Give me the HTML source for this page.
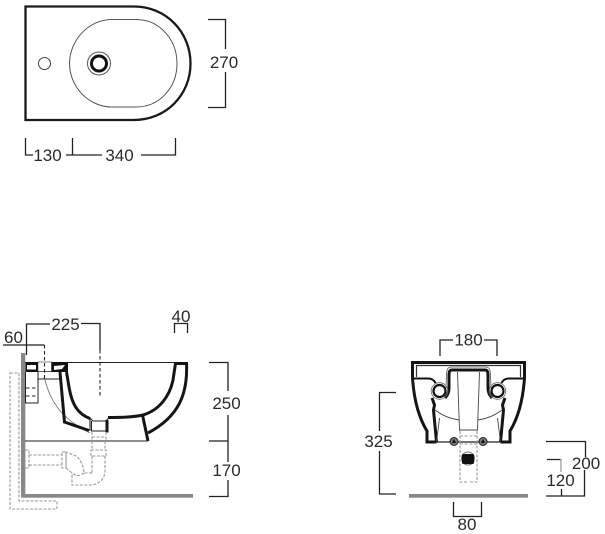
<!DOCTYPE html>
<html><head><meta charset="utf-8">
<style>
html,body{margin:0;padding:0;background:#fff;width:605px;height:534px;overflow:hidden}
svg{display:block}
text{font-family:"Liberation Sans",sans-serif;font-size:17px;fill:#2a2a2a;text-anchor:middle}
.d{fill:none;stroke:#222;stroke-width:1.3}
.k{fill:none;stroke:#151515;stroke-width:3}
.t{fill:none;stroke:#222;stroke-width:1}
.g{fill:none;stroke:#999;stroke-width:1.1;stroke-dasharray:3 1.5}
.b{fill:none;stroke:#222;stroke-width:1.1;stroke-dasharray:3.5 2.5}
</style></head><body>
<svg width="605" height="534" viewBox="0 0 605 534" xmlns="http://www.w3.org/2000/svg">
<!-- top view -->
<path d="M25.500 6.500H134C166 6.500 190.500 32 190.500 63.500S166 120 134 120H25.500Z" fill="none" stroke="#1a1a1a" stroke-width="2.300"/>
<path d="M112 19.500H136C160 19.500 177 40 177 63.500S160 107 136 107H112C88 107 69.500 86 69.500 63.500S88 19.500 112 19.500Z" fill="none" stroke="#555" stroke-width="1"/>
<circle cx="44.500" cy="63.500" r="6" fill="none" stroke="#444" stroke-width="1"/>
<circle cx="99" cy="63.500" r="11.500" fill="none" stroke="#555" stroke-width="1"/>
<circle cx="99" cy="63.500" r="7.500" fill="none" stroke="#111" stroke-width="3"/>
<path class="d" d="M208 19.500H225.500V49M225.500 72V107.500H208"/>
<text x="224" y="68">270</text>
<path class="d" d="M25.500 138V155H33M66 155H102M72.500 138V155M141 155H175.500V138"/>
<text x="47.500" y="161">130</text><text x="119.500" y="161">340</text>

<!-- side view -->
<rect x="21" y="353" width="4.300" height="144.500" fill="#888"/>
<rect x="21" y="494" width="172" height="3.700" fill="#888"/>
<path class="t" stroke-width="1.200" d="M25 362.500H188M25 441H148"/>
<path d="M25.500 362H68V372H25.500Z" fill="#111"/>
<rect x="27" y="365" width="9" height="4.500" fill="#fff"/>
<rect x="38" y="362" width="13.500" height="9.500" fill="#fff" stroke="#333" stroke-width=".6"/>
<path d="M54 366L65 365 L62 369 L54 370Z" fill="#fff"/>
<path class="t" d="M25.500 372V403H38V372M38 379H62M38 372V379"/>
<path class="b" d="M26 388H38M26 396H38"/>
<path d="M45 380C50 400 60 418 90 433" fill="none" stroke="#777" stroke-width=".9"/>
<path class="k" d="M60 372L64.500 422L89 430.500" stroke-width="3.200"/>
<path class="k" d="M66.500 372L69 387C72 405 78 414 90 418.500" stroke-width="3.200"/>
<path class="t" d="M90 418L93 421H106L109 417.500M91.500 421V431H106"/>
<path class="k" d="M107 420V432.500" stroke-width="3"/>
<path d="M90 418V431" stroke="#111" stroke-width="1"/>
<path class="k" d="M108 417.500C125 417.500 135 417 143 415C160 410 170 395 173 380L175.500 363.500H186.500C188 395 178 417 148 433" stroke-width="3"/>
<path class="k" d="M142.500 415L148 441" stroke-width="2.800"/>
<path class="g" d="M92 432V441M106 432V441M92 437H106M92 441V450M105 441V450M91 450H106V456H91ZM92 456C92 460 92 468 92 473M105 456V470C105 480 98 485 90 485H72V473M92 473H84C84 470 82 460 76 456L66 452V468L72 473C78 478 82 474 84 473M66 453V468M62 452H66V468H62ZM29 455H62M29 465H62M25 450H29V468H25Z"/>
<path class="g" d="M10 373H19V501H57V509H10Z"/>
<path class="d" d="M26.500 355V324H50M81 323.500H100V350"/>
<path class="b" d="M100 350V397"/>
<text x="65.500" y="330">225</text>
<path class="d" d="M3 345H44.500"/>
<path class="b" d="M44.500 345V379"/>
<text x="13.500" y="343">60</text>
<text x="181" y="322">40</text>
<path class="d" d="M174.500 333V323.500H187.500V333"/>
<path class="d" d="M209 362.500H228V391M228 415V441M209 441H228V462M228 480V496.500H209"/>
<text x="226.500" y="409">250</text><text x="226.500" y="476">170</text>

<!-- front view -->
<rect x="409" y="494" width="119" height="3.700" fill="#888"/>
<g id="half">
<path class="k" d="M468.500 362.500H412.500V378C414 400 419 418 427 431V442H436.500" stroke-width="2.800"/>
<path d="M468.500 365.500H416.500V377" fill="none" stroke="#333" stroke-width="1.200"/>
<path d="M413 378.500H428C432 378.500 434 380 435.500 383" fill="none" stroke="#111" stroke-width="2"/>
<path class="k" d="M468.500 370H452C449.500 370 449 372 449 375V388C449 393 447 396 445 398" stroke-width="2.800"/>
<path d="M468.500 367H451C447.500 367.500 447 369 446.500 374L446 388" fill="none" stroke="#555" stroke-width=".8"/>
<circle cx="439.500" cy="391" r="8.300" fill="none" stroke="#666" stroke-width=".8"/>
<circle cx="439.500" cy="391" r="6" fill="none" stroke="#111" stroke-width="2.200"/>
<path class="k" d="M432 398L434.500 405L433.500 410L436.500 442" stroke-width="3"/>
<path d="M435 410C444 417 452 419 459 420M439.500 418L436.500 442M457.500 372L459.500 430H468.500" fill="none" stroke="#444" stroke-width=".9"/>
<path d="M436 442H468.500" stroke="#222" stroke-width="1.300" fill="none"/>
<circle cx="454" cy="441.500" r="4" fill="#777" stroke="#222" stroke-width="1"/>
<path d="M452 443L454 439L456 443Z" fill="#111"/>
<path class="g" d="M460 431V441M460 441V482H468.500M460 444H468.500M460 436H468.500"/>
</g>
<use href="#half" transform="matrix(-1 0 0 1 937 0)"/>
<circle cx="468" cy="458.500" r="6.500" fill="none" stroke="#777" stroke-width="1"/>
<rect x="462" y="454" width="12" height="10" rx="1.500" fill="#111"/>
<path class="d" d="M440 356V340H453M484 340H497V356"/>
<text x="468.500" y="345.500">180</text>
<path class="d" d="M396 392.500H379.500V431M379.500 451V494H396"/>
<text x="378.500" y="447">325</text>
<path class="d" d="M546 441.500H585.500V457M584.500 470V496H546M547 459.500H561"/>
<path d="M561 459V472" stroke="#aaa" stroke-width="1.500"/>
<path class="d" d="M561.500 489V496"/>
<text x="586" y="469">200</text><text x="560.500" y="486">120</text>
<path class="d" d="M453.500 502V516.500H481.500V502"/>
<text x="467" y="530">80</text>
</svg>
</body></html>
